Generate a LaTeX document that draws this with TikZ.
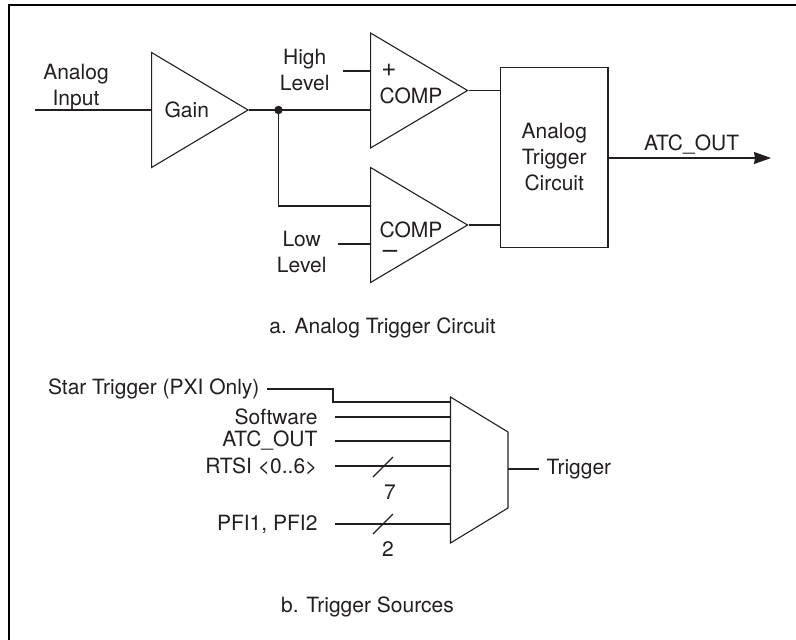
\documentclass[tikz,border=0pt]{standalone}
\usepackage{fontspec}
\setmainfont{TeX Gyre Heros}
\usepackage{tikz}
\usetikzlibrary{arrows.meta,positioning,shapes.geometric}
\usepackage{xcolor}
\definecolor{ink}{HTML}{231F20}

\begin{document}
\begin{tikzpicture}[
  x=1pt, y=-1pt,
  line width=1.1pt, draw=ink, text=ink,
  txt/.style={align=center, inner sep=0pt, font=\fontsize{21}{26}\selectfont},
  sign/.style={inner sep=0pt, font=\fontsize{26}{26}\selectfont},
  amp/.style={draw, isosceles triangle, isosceles triangle stretches, inner sep=0pt, minimum width=115pt, minimum height=96.5pt, anchor=lower side, font=\fontsize{21}{26}\selectfont},
  block/.style={draw, inner sep=0pt, align=center, minimum width=107.5pt, minimum height=180pt, font=\fontsize{21}{26}\selectfont},
  wire/.style={draw=ink},
  arr/.style={wire, -{Stealth[length=17pt,width=12pt,inset=1pt]}}
]
\useasboundingbox (0,0) rectangle (796,640);
\fill[white] (0,0) rectangle (796,640);
\draw[black, line width=2.2pt] (9,640) -- (9,5) -- (796,5);

% a. analog trigger circuit
\node[amp] (gain) at (151,110) {Gain};
\node[amp, minimum height=97pt] (comphigh) at (370,90.5) {};
\node[amp, minimum height=97pt] (complow) at (370,225) {};
\node[block] (atc) at (554.25,157.5) {Analog\\Trigger\\Circuit};

\coordinate (anain) at (35,110);
\coordinate (hilev) at (343,71);
\coordinate (lolev) at (338,244);
\coordinate (tap) at (278.5,110);
\coordinate (lowin) at (370,206);
\coordinate (atcend) at (771,158);

\node[txt, above=-1pt of anain, xshift=41pt] (analab) {Analog\\Input};
\node[txt, left=13pt of hilev, yshift=0.5pt] (hilab) {High\\Level};
\node[txt, left=11pt of lolev, yshift=-8pt] (lolab) {Low\\Level};
\node[txt, above=3pt of atc.east, xshift=83pt] (atclab) {ATC\_OUT};
\node[sign] (plus) at (389,70) {+};
\node[sign] (minus) at (390,254) {\textendash};
\node[txt] (cmphi) at (411,96) {COMP};
\node[txt] (cmplo) at (411,230) {COMP};
\node[txt] (capa) at (382.5,328) {a. Analog Trigger Circuit};

\draw[wire] (anain) -- (gain.lower side);
\draw[wire] (gain.apex) -- (gain.apex -| comphigh.lower side);
\draw[wire] (tap) |- (lowin);
\fill[ink] (tap) circle (4.2pt);
\draw[wire] (hilev) -- (hilev -| comphigh.lower side);
\draw[wire] (lolev) -- (lolev -| complow.lower side);
\draw[wire] (comphigh.apex) -- (comphigh.apex -| atc.west);
\draw[wire] (complow.apex) -- (complow.apex -| atc.west);
\draw[arr] (atc.east |- atcend) -- (atcend);

% b. trigger sources
\coordinate (muxtl) at (450.5,397);
\coordinate (muxtr) at (508,432);
\coordinate (muxbr) at (508,508);
\coordinate (muxbl) at (450.5,543);
\draw[wire] (muxtl) -- (muxtr) -- (muxbr) -- (muxbl) -- cycle;

\coordinate (starin) at (267,389);
\coordinate (starbend) at (333,402);
\coordinate (softin) at (335,417);
\coordinate (atcin) at (335,441);
\coordinate (rtsiin) at (335,466);
\coordinate (pfiin) at (335,524);
\coordinate (trigout) at (508,469);
\coordinate (trigend) at (539,469);

\node[txt, left=7pt of starin] (starlab) {Star Trigger (PXI Only)};
\node[txt, left=17pt of softin] (softlab) {Software};
\node[txt, left=17pt of atcin] (atclab2) {ATC\_OUT};
\node[txt, left=17pt of rtsiin] (rtsilab) {RTSI <0..6>};
\node[txt, left=17pt of pfiin] (pfilab) {PFI1, PFI2};
\node[txt, right=7pt of trigend] (triglab) {Trigger};
\node[txt] (seven) at (390,492) {7};
\node[txt] (two) at (388,549) {2};
\node[txt] (capb) at (367.5,607) {b. Trigger Sources};

\draw[wire] (starin) -| (starbend) -- (starbend -| muxtl);
\draw[wire] (softin) -- (softin -| muxtl);
\draw[wire] (atcin) -- (atcin -| muxtl);
\draw[wire] (rtsiin) -- (rtsiin -| muxtl);
\draw[wire] (pfiin) -- (pfiin -| muxtl);
\draw[wire] (373,477) -- (393,457);
\draw[wire] (373,534) -- (393,514);
\draw[wire] (trigout) -- (trigend);

\end{tikzpicture}
\end{document}
